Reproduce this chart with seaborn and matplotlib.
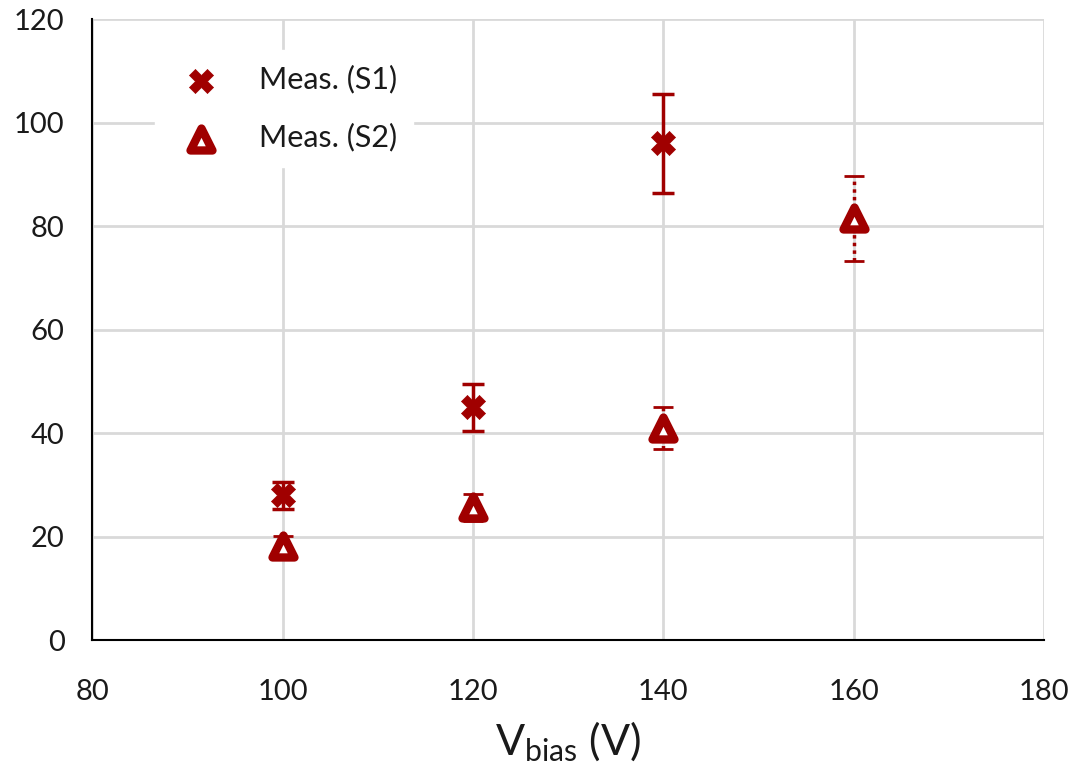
import matplotlib
matplotlib.use("Agg")
import matplotlib.pyplot as plt
import seaborn as sns
import pandas as pd

# Data
v_s1 = [100, 120, 140]
y_s1 = [28.0, 45.0, 96.0]
err_s1 = [2.7, 4.5, 9.6]

v_s2 = [100, 120, 140, 160]
y_s2 = [18.2, 25.7, 41.0, 81.5]
err_s2 = [2.0, 2.6, 4.0, 8.2]

labels = ["Meas. (S1)", "Meas. (S2)"]
color = "#A00000"

sns.set_theme(style="white")
plt.rcParams['font.family'] = ['Lato', 'DejaVu Sans']

fig, ax = plt.subplots(figsize=(10.74, 7.67), dpi=100)
fig.subplots_adjust(left=0.086, right=0.972, top=0.975, bottom=0.165)

df1 = pd.DataFrame({"V": v_s1, "y": y_s1})
df2 = pd.DataFrame({"V": v_s2, "y": y_s2})

# error bars
ax.errorbar(v_s1, y_s1, yerr=err_s1, fmt="none", ecolor=color,
            elinewidth=2.5, capsize=8, capthick=2.5, zorder=3)
eb2 = ax.errorbar(v_s2, y_s2, yerr=err_s2, fmt="none", ecolor=color,
                  elinewidth=2.5, capsize=7, capthick=2.0, zorder=3)
for lc in eb2[2]:
    lc.set_linestyle((0, (1, 1.2)))

sns.scatterplot(data=df1, x="V", y="y", ax=ax, marker="X", s=300,
                color=color, edgecolor=color, linewidth=0.5, label=labels[0], zorder=4)
sns.scatterplot(data=df2, x="V", y="y", ax=ax, marker="^", s=250,
                facecolor="white", edgecolor=color, linewidth=6, label=labels[1], zorder=4)

ax.set_xlim(80, 180)
ax.set_ylim(0, 120)
ax.set_xticks(range(80, 181, 20))
ax.set_yticks(range(0, 121, 20))
ax.grid(True, color="#d9d9d9", linewidth=2)
ax.set_axisbelow(True)
for s in ["top", "right"]:
    ax.spines[s].set_visible(False)
for s in ["left", "bottom"]:
    ax.spines[s].set_color("black")
    ax.spines[s].set_linewidth(1.5)
ax.tick_params(axis="both", labelsize=21, colors="#1a1a1a", length=0)
ax.tick_params(axis="x", pad=28)
ax.tick_params(axis="y", pad=20)
ax.set_xlabel("V$_{\\mathregular{bias}}$ (V)", fontsize=31, color="#1a1a1a", labelpad=10)
ax.set_ylabel("")

leg = ax.legend(loc="upper left", bbox_to_anchor=(0.05, 0.975), frameon=True,
                fontsize=22, handletextpad=0.9, labelspacing=0.95, borderpad=0.5,
                facecolor="white", edgecolor="white", framealpha=1, fancybox=False)
for t in leg.get_texts():
    t.set_color("#1a1a1a")

fig.savefig("out.png", dpi=100)
